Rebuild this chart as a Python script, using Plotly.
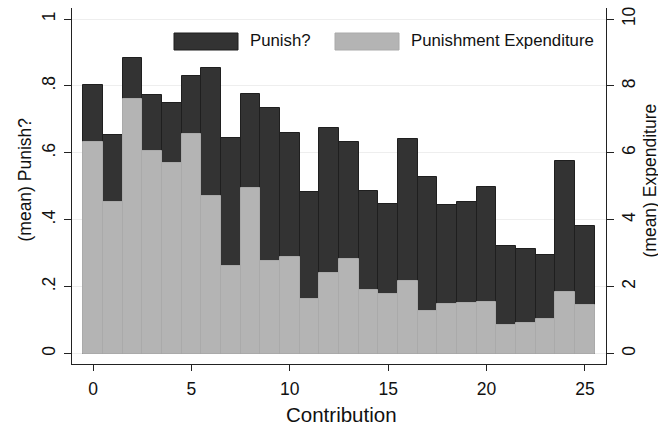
import plotly.graph_objects as go

contribution = list(range(26))
punish = [0.803, 0.653, 0.882, 0.773, 0.750, 0.829, 0.854, 0.643, 0.775, 0.733,
          0.658, 0.484, 0.673, 0.631, 0.487, 0.446, 0.642, 0.529, 0.444, 0.452,
          0.497, 0.320, 0.311, 0.294, 0.576, 0.382]
expenditure = [6.33, 4.53, 7.61, 6.05, 5.70, 6.55, 4.71, 2.62, 4.94, 2.77,
               2.88, 1.64, 2.42, 2.83, 1.90, 1.78, 2.17, 1.27, 1.47, 1.51,
               1.53, 0.85, 0.90, 1.04, 1.85, 1.45]
left_ticks = [0, 0.2, 0.4, 0.6, 0.8, 1]
left_labels = ["0", ".2", ".4", ".6", ".8", "1"]
right_ticks = [0, 2, 4, 6, 8, 10]
x_ticks = [0, 5, 10, 15, 20, 25]

DARK = "#333333"
LIGHT = "#b4b4b4"
FONT = "Liberation Sans, Arial, sans-serif"
TXT = "#111111"

fig = go.Figure()
fig.add_trace(go.Bar(x=contribution, y=punish, width=1, name="Punish?",
                     marker=dict(color=DARK, line=dict(color="#1f1f1f", width=1)),
                     yaxis="y"))
fig.add_trace(go.Bar(x=contribution, y=expenditure, width=1, name="Punishment Expenditure",
                     marker=dict(color=LIGHT, line=dict(color="#aaaaaa", width=1)),
                     yaxis="y2"))

ylo, yhi = -0.0314, 1.0329
fig.update_layout(
    width=658, height=425,
    margin=dict(l=72, r=52, t=8, b=61),
    paper_bgcolor="white", plot_bgcolor="white",
    barmode="overlay", bargap=0,
    showlegend=False,
    font=dict(family=FONT, color=TXT),
    xaxis=dict(range=[-1.07, 26.07], tickvals=x_ticks, ticks="outside", ticklen=6,
               tickcolor="#222", showline=True, linecolor="#222", linewidth=1,
               showgrid=False, zeroline=False, tickfont=dict(size=17.5), automargin=False,
               ticklabelstandoff=3, ticklabeloverflow="allow"),
    yaxis=dict(range=[ylo, yhi], tickvals=left_ticks, ticktext=left_labels,
               ticks="outside", ticklen=7, tickcolor="#222", tickangle=-90,
               showline=True, linecolor="#222", linewidth=1, automargin=False,
               showgrid=True, gridcolor="#eeeeee", gridwidth=1, zeroline=False,
               tickfont=dict(size=17.5), ticklabelstandoff=2, ticklabeloverflow="allow"),
    yaxis2=dict(range=[ylo * 10, yhi * 10], tickvals=right_ticks, overlaying="y",
                side="right", ticks="outside", ticklen=7, tickcolor="#222", tickangle=-90,
                showline=True, linecolor="#222", linewidth=1, showgrid=False,
                zeroline=False, tickfont=dict(size=17.5), automargin=False,
                ticklabeloverflow="allow"),
)

# helpers: page pixel position -> paper coordinates of the plot area
pl, pr, pt, pb = 72, 606, 8, 364
def px(x):
    return (x - pl) / (pr - pl)
def py(y):
    return (pb - y) / (pb - pt)

# axis titles
titles = [("Contribution", 341.5, 414, 0, 20.5),
          ("(mean) Punish?", 24.5, 180, -90, 17.5),
          ("(mean) Expenditure", 649, 180.5, -90, 17.5)]
for text, tx, ty, ang, sz in titles:
    fig.add_annotation(xref="paper", yref="paper", x=px(tx), y=py(ty), text=text,
                       textangle=ang, showarrow=False, xanchor="center", yanchor="middle",
                       font=dict(size=sz, family=FONT, color=TXT))

# legend drawn as boxes + text
legend_items = [("Punish?", DARK, 174, 238, 248), ("Punishment Expenditure", LIGHT, 335, 399, 409)]
for label, col, x0, x1, tx in legend_items:
    fig.add_shape(type="rect", xref="paper", yref="paper",
                  x0=px(x0), x1=px(x1), y0=py(50), y1=py(33),
                  fillcolor=col, line=dict(color="#aaaaaa" if col == LIGHT else "#1f1f1f", width=1))
    fig.add_annotation(xref="paper", yref="paper", x=px(tx), y=py(41),
                       text=label, showarrow=False, xanchor="left", yanchor="middle",
                       font=dict(size=16.8, family=FONT, color=TXT))

# remove the default page margin so the figure fills the window exactly
fig.write_html("out.html", config={"displayModeBar": False},
               post_script="document.body.style.margin='0';document.body.style.overflow='hidden';")
